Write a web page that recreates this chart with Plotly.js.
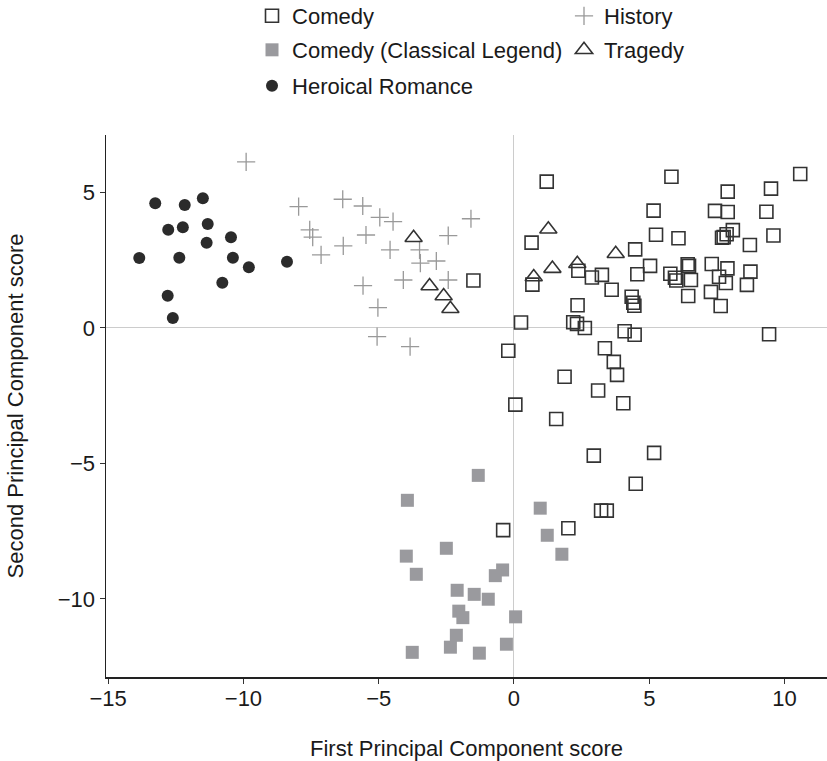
<!DOCTYPE html>
<html>
<head>
<meta charset="utf-8">
<script src="https://cdn.plot.ly/plotly-3.0.1.min.js"></script>
<style>html,body{margin:0;padding:0;background:#fff;}#chart{width:827px;height:761px;}</style>
</head>
<body>
<div id="chart"></div>
<script>
// ---- Data ----
const comedyX = [-1.50,1.21,5.82,5.16,5.25,6.08,0.65,4.48,5.03,4.56,2.38,2.88,3.25,3.61,0.68,5.78,5.95,4.35,4.41,4.45,2.35,2.19,2.33,2.62,0.26,4.09,4.46,-0.21,3.36,10.58,7.90,9.50,7.43,7.90,9.33,8.09,7.86,7.75,7.69,9.59,8.72,6.42,6.47,7.31,7.89,8.74,6.00,6.54,7.58,7.83,8.61,7.28,6.44,7.64,9.43,3.69,3.81,1.87,3.11,4.04,0.05,1.56,2.95,5.18,4.50,3.22,3.43,2.01,-0.40];
const comedyY = [1.75,5.40,5.58,4.33,3.44,3.31,3.15,2.90,2.29,1.98,2.11,1.86,1.96,1.41,1.60,2.00,1.85,1.15,0.93,0.82,0.84,0.21,0.15,0.00,0.20,-0.12,-0.25,-0.84,-0.75,5.68,5.03,5.14,4.32,4.28,4.29,3.61,3.46,3.35,3.33,3.41,3.06,2.35,2.29,2.36,2.20,2.08,1.75,1.77,1.89,1.66,1.59,1.33,1.18,0.81,-0.23,-1.25,-1.73,-1.80,-2.31,-2.78,-2.83,-3.36,-4.71,-4.61,-5.75,-6.74,-6.74,-7.39,-7.46];

const classicalX = [-1.32,-3.94,0.97,1.23,1.77,-2.50,-3.98,-3.61,-0.42,-0.69,-2.10,-1.47,-0.95,-2.04,-1.89,0.06,-2.13,-2.35,-3.76,-1.28,-0.28];
const classicalY = [-5.44,-6.36,-6.65,-7.65,-8.35,-8.13,-8.42,-9.09,-8.93,-9.14,-9.68,-9.83,-10.01,-10.45,-10.69,-10.66,-11.34,-11.78,-11.97,-12.00,-11.67];

const romanceX = [-13.26,-12.17,-11.50,-12.78,-12.24,-11.32,-11.36,-10.46,-13.85,-12.37,-10.39,-9.80,-8.39,-10.78,-12.80,-12.61];
const romanceY = [4.60,4.54,4.79,3.62,3.72,3.84,3.14,3.35,2.58,2.59,2.59,2.24,2.44,1.67,1.19,0.37];

const historyX = [-9.90,-7.96,-6.33,-5.59,-4.96,-4.47,-1.59,-7.55,-7.44,-5.47,-2.43,-6.31,-7.13,-4.58,-3.49,-3.46,-2.87,-4.09,-2.43,-5.58,-5.03,-5.06,-3.84];
const historyY = [6.13,4.48,4.75,4.50,4.08,3.92,4.03,3.62,3.35,3.43,3.41,3.03,2.70,2.88,2.88,2.39,2.47,1.77,1.77,1.56,0.75,-0.32,-0.69];

const tragedyX = [-3.71,-3.12,-2.60,-2.35,1.27,0.73,1.42,2.34,3.76];
const tragedyY = [3.33,1.55,1.18,0.71,3.64,1.88,2.19,2.37,2.74];

const seriesNames = ["Comedy","Comedy (Classical Legend)","Heroical Romance","History","Tragedy"];
const xTicks = [-15,-10,-5,0,5,10];
const yTicks = [-10,-5,0,5];

// ---- Traces ----
const dark = '#333333';
const grey = '#9a9a9e';
const traces = [
  {x: comedyX, y: comedyY, name: seriesNames[0], type: 'scatter', mode: 'markers', legend: 'legend',
   marker: {symbol: 'square-open', size: 13, color: dark, line: {width: 1.6, color: dark}}},
  {x: classicalX, y: classicalY, name: seriesNames[1], type: 'scatter', mode: 'markers', legend: 'legend2',
   marker: {symbol: 'square', size: 13, color: grey, line: {width: 0}}},
  {x: romanceX, y: romanceY, name: seriesNames[2], type: 'scatter', mode: 'markers', legend: 'legend3',
   marker: {symbol: 'circle', size: 12, color: '#2b2b2b', line: {width: 0}}},
  {x: historyX, y: historyY, name: seriesNames[3], type: 'scatter', mode: 'markers', legend: 'legend',
   marker: {symbol: 'cross-thin-open', size: 13, color: '#999999', line: {width: 1.3, color: '#999999'}}},
  {x: tragedyX, y: tragedyY, name: seriesNames[4], type: 'scatter', mode: 'markers', legend: 'legend2',
   marker: {symbol: 'triangle-up-open', size: 15, color: dark, line: {width: 1.6, color: dark}}}
];

const fontFam = '"Liberation Sans", Arial, Helvetica, sans-serif';
const legendBase = {
  orientation: 'h', xanchor: 'left', yanchor: 'middle', x: 0.2025,
  font: {family: fontFam, size: 22, color: '#1a1a1a'},
  entrywidth: 267, entrywidthmode: 'pixels', bgcolor: 'rgba(0,0,0,0)', borderwidth: 0,
  traceorder: 'normal'
};

const layout = {
  width: 827, height: 761,
  margin: {l: 106, r: 0, t: 135, b: 84, autoexpand: false},
  paper_bgcolor: '#ffffff', plot_bgcolor: '#ffffff',
  font: {family: fontFam, size: 22, color: '#1a1a1a'},
  showlegend: true,
  legend: Object.assign({}, legendBase, {y: 1.2196}),
  legend2: Object.assign({}, legendBase, {y: 1.1568}),
  legend3: Object.assign({}, legendBase, {y: 1.0904}),
  xaxis: {
    range: [-15.08, 11.57], tickmode: 'array', tickvals: xTicks,
    showgrid: false, zeroline: true, zerolinecolor: '#cccccc', zerolinewidth: 1,
    showline: true, linecolor: '#222222', linewidth: 1.5, mirror: false,
    ticks: 'outside', ticklen: 5, tickwidth: 1, tickcolor: '#333333',
    ticklabelstandoff: -4,
    tickfont: {family: fontFam, size: 22, color: '#1a1a1a'},
    title: {text: 'First Principal Component score', standoff: 30, font: {family: fontFam, size: 22, color: '#1a1a1a'}}
  },
  yaxis: {
    range: [-12.88, 7.12], tickmode: 'array', tickvals: yTicks,
    showgrid: false, zeroline: true, zerolinecolor: '#cccccc', zerolinewidth: 1,
    showline: true, linecolor: '#222222', linewidth: 1.5, mirror: false,
    ticks: 'outside', ticklen: 5, tickwidth: 1, tickcolor: '#333333',
    tickfont: {family: fontFam, size: 22, color: '#1a1a1a'},
    title: {text: 'Second Principal Component score', standoff: 28, font: {family: fontFam, size: 22, color: '#1a1a1a'}}
  }
};

Plotly.newPlot('chart', traces, layout, {displayModeBar: false, staticPlot: true});
</script>
</body>
</html>
